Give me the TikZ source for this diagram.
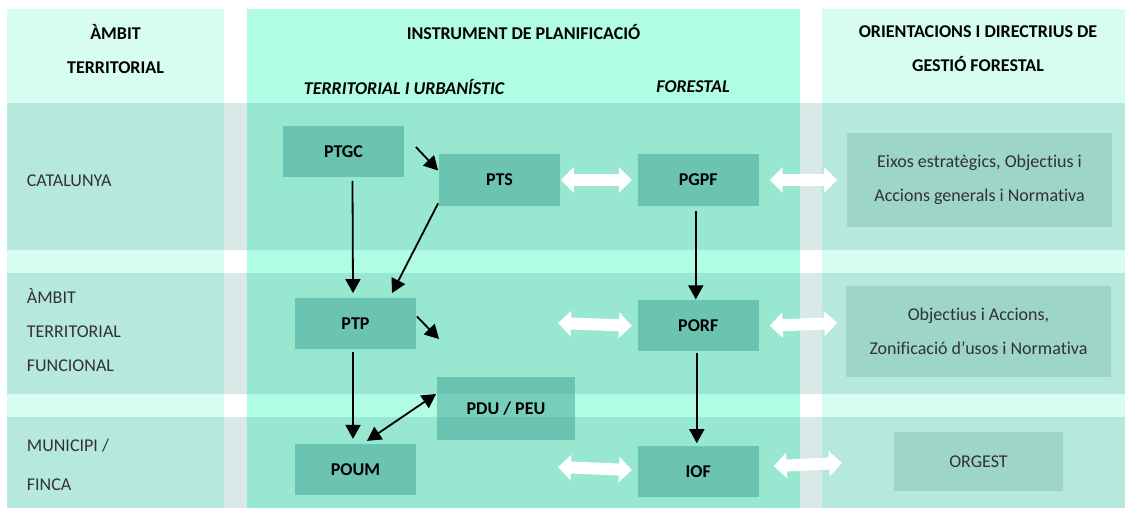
\documentclass[tikz,border=0pt]{standalone}
\usepackage{fontspec}
\setmainfont{Carlito}[Ligatures=NoCommon]
\usetikzlibrary{arrows.meta, positioning, calc}

\definecolor{colpale}{RGB}{215,253,242}
\definecolor{colmint}{RGB}{176,252,228}
\definecolor{bandtint}{RGB}{38,135,123}
\definecolor{plangreen}{RGB}{64,161,148}
\definecolor{guidegreen}{RGB}{157,213,200}
\definecolor{labelgray}{RGB}{50,50,50}

\begin{document}
\begin{tikzpicture}[x=1pt, y=-1pt, >={Triangle[length=14pt,width=15pt]},
  line width=1.8pt, font=\fontsize{18}{34}\selectfont,
  plan node/.style={fill=plangreen, fill opacity=0.5, text opacity=1, inner sep=0pt,
    minimum width=121pt, minimum height=51pt, font=\fontsize{18}{34}\selectfont\bfseries},
  guide node/.style={fill=guidegreen, text=labelgray, align=center, inner sep=0pt},
  head text/.style={font=\fontsize{18}{34}\selectfont\bfseries, align=center},
  row text/.style={anchor=west, align=left, text=labelgray, inner sep=0pt},
  wide arrow/.style={white, line width=12pt,
    {Triangle[length=13pt,width=25pt]}-{Triangle[length=13pt,width=25pt]}}]

    \useasboundingbox[fill=white] (0,0) rectangle (1125,508);

    % columns
    \fill[colpale] (7,9) rectangle (224,508);
    \fill[colmint] (247,9) rectangle (800,508);
    \fill[colpale] (822,9) rectangle (1125,508);
    % rows
    \fill[bandtint, opacity=0.175] (7,103) rectangle (1125,250);
    \fill[bandtint, opacity=0.175] (7,273) rectangle (1125,394);
    \fill[bandtint, opacity=0.175] (7,417) rectangle (1125,508);

    % headers
    \node[head text] (hambit) at (115.5,49) {ÀMBIT\\TERRITORIAL};
    \node[head text] (hinstr) at (523.5,32) {INSTRUMENT DE PLANIFICACIÓ};
    \node[head text, font=\fontsize{18}{34}\selectfont\bfseries\itshape] (hurb) at (404,87) {TERRITORIAL I URBANÍSTIC};
    \node[head text, font=\fontsize{18}{34}\selectfont\bfseries\itshape] (hfor) at (693,87) {FORESTAL};
    \node[head text] (horient) at (978,49) {ORIENTACIONS I DIRECTRIUS DE\\GESTIÓ FORESTAL};

    \node[row text] (rcat) at (26,181) {CATALUNYA};
    \node[row text] (rfunc) at (26,330) {ÀMBIT\\TERRITORIAL\\FUNCIONAL};
    \node[row text] (rmun) at (26,464.5) {MUNICIPI /\\[5pt]FINCA};

    % plans
    \node[plan node] (ptgc) at (343.5,151.5) {PTGC};
    \node[plan node] (pts) at (499.5,180) {PTS};
    \node[plan node] (pgpf) [right=76pt of pts] {PGPF};
    \node[plan node] (ptp) at (355.5,323.5) {PTP};
    \node[plan node] (poum) [below=93pt of ptp] {POUM};
    \node[plan node] (porf) [below=93pt of pgpf] {PORF};
    \node[plan node] (iof) [below=93pt of porf] {IOF};
    \node[plan node, minimum width=138pt, minimum height=63pt] (pdu) at (506,408.5) {PDU / PEU};

    \node[guide node, minimum width=265pt, minimum height=93pt] (eixos) at (979.5,180) {Eixos estratègics, Objectius i\\Accions generals i Normativa};
    \node[guide node, minimum width=265pt, minimum height=91pt] (zonif) at (978.5,331.5) {Objectius i Accions,\\Zonificació d’usos i Normativa};
    \node[guide node, minimum width=169pt, minimum height=59pt] (orgest) at (978.5,461.5) {ORGEST};

    \coordinate (ptp free) at (439,339);
    \coordinate (porf free) at (558,323);
    \coordinate (iof free) at (558,467);
    \coordinate (orgest free) at (842,463);

    \path ([xshift=11pt,yshift=4.5pt]ptgc.east) edge [->] ([yshift=9.5pt]pts.west);
    \path ([xshift=9pt,yshift=-3pt]ptgc.south) edge [->] ([xshift=-2.5pt,yshift=4pt]ptp.north);
    \path ([yshift=3pt]pts.south west) edge [->] ([xshift=36.5pt,yshift=4pt]ptp.north);
    \path ([yshift=7pt]ptp.east) edge [->] (ptp free);
    \path ([xshift=-2.5pt,yshift=-2pt]ptp.south) edge [->] ([xshift=-2.5pt,yshift=4pt]poum.north);
    \path ([xshift=11.5pt,yshift=2pt]poum.north) edge [<->] ([yshift=14.5pt]pdu.west);
    \path ([xshift=-2.5pt,yshift=-5pt]pgpf.south) edge [->] ([xshift=-2.5pt]porf.north);
    \path ([xshift=-1.5pt,yshift=-1pt]porf.south) edge [->] ([xshift=-1.5pt,yshift=2pt]iof.north);

    \path (pts.east) edge [wide arrow] ([xshift=-5pt]pgpf.west);
    \path ([xshift=10pt]pgpf.east) edge [wide arrow] ([xshift=-9pt]eixos.west);
    \path (porf free) edge [wide arrow] ([xshift=-5pt]porf.west);
    \path ([xshift=10pt]porf.east) edge [wide arrow] ($(zonif.west)+(-8,-8.5)$);
    \path (iof free) edge [wide arrow] ([xshift=-5pt,yshift=1.5pt]iof.west);
    \path ([xshift=14pt,yshift=5.5pt]iof.east) edge [wide arrow] (orgest free);

\end{tikzpicture}
\end{document}
